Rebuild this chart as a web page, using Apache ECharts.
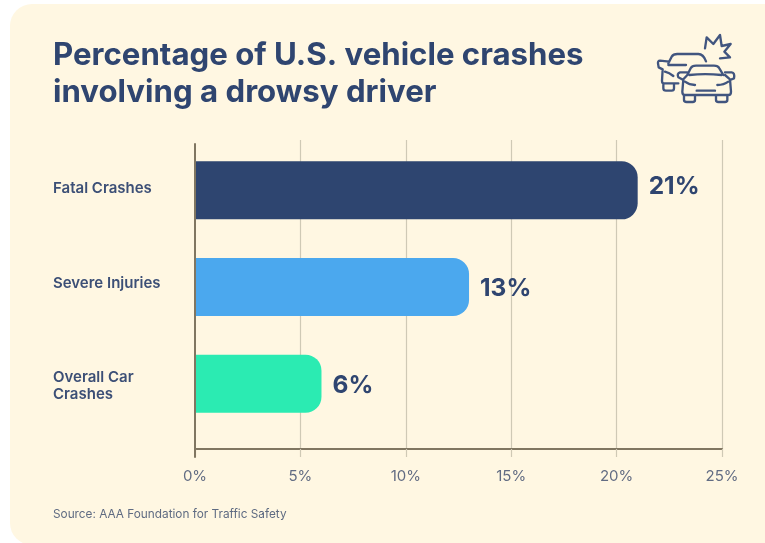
<!DOCTYPE html>
<html>
<head>
<meta charset="utf-8">
<style>html,body{margin:0;padding:0;background:#fff}#chart{width:765px;height:543px}</style>
<script src="https://cdn.jsdelivr.net/npm/echarts@6/dist/echarts.min.js"></script>
</head>
<body>
<div id="chart"></div>
<script>
const categoryLines = [['Fatal Crashes'], ['Severe Injuries'], ['Overall Car', 'Crashes']];
const percentages = [21, 13, 6];
const barColors = ['#2E4570', '#4BA8EE', '#2BEBB2'];
const valueLabelShift = [-3.5, 1.5, 2];
const titleLines = 'Percentage of U.S. vehicle crashes\ninvolving a drowsy driver';
const sourceNote = 'Source: AAA Foundation for Traffic Safety';

const FONT = 'Inter, "Noto Sans", sans-serif';
const NAVY = '#2F4570';
const ICON = '#41557F';

// Line-art crash icon, stroked in a 3x coordinate space and scaled down
const iconPaths = [
  'M225,85 L230,52 L250,72 L270,45 L275,78 L302,72 L283,95 L300,112 L270,115',
  'M115,130 L125,110 Q130,102 142,102 L205,102 Q220,102 228,124',
  'M115,135 L168,135',
  'M118,125 L90,122 Q83,122 84,130 L86,142 L98,148 L96,182 Q96,190 102,190 L145,190',
  'M105,155 Q118,158 130,168',
  'M100,190 L100,205 Q100,212 108,212 L125,212 Q132,212 132,205 L132,190',
  'M172,165 L182,145 Q186,137 198,137 L252,137 Q264,137 268,145 L280,165',
  'M178,165 Q225,160 275,165',
  'M160,180 L145,172 Q140,160 150,157 L172,157',
  'M172,165 L160,178 L157,215 Q157,225 165,225 L295,225 Q303,225 303,215 L300,178 L285,165',
  'M300,180 L312,175 Q315,158 305,157 L285,157',
  'M165,185 Q178,195 195,195',
  'M295,185 Q282,195 262,195',
  'M200,212 L255,212',
  'M162,225 L162,240 Q162,246 170,246 L188,246 Q195,246 195,240 L195,225',
  'M258,225 L258,240 Q258,246 265,246 L285,246 Q292,246 292,240 L292,225'
];
echarts.graphic.registerShape('crashIcon', echarts.graphic.extendPath(iconPaths.join(' ')));

const categories = categoryLines.map(lines => lines.join('\n'));
const labelStyle = { fontFamily: FONT, fontSize: 15, fontWeight: 600, color: '#3C4F76', lineHeight: 18 };

const chart = echarts.init(document.getElementById('chart'), null, { renderer: 'canvas' });

chart.setOption({
  animation: false,
  backgroundColor: '#FFFFFF',
  title: {
    text: titleLines,
    left: 53,
    top: 37.5,
    padding: 0,
    textStyle: { fontFamily: FONT, fontSize: 31.2, fontWeight: 700, color: NAVY, lineHeight: 36.5 }
  },
  grid: [
    { left: 195, width: 527, top: 142, height: 290, outerBoundsMode: 'none' },   // bars
    { left: 195, width: 527, top: 140, height: 309, outerBoundsMode: 'none' },   // value scale and gridlines
    { left: 195, width: 527, top: 144, height: 313, outerBoundsMode: 'none' }    // zero line
  ],
  xAxis: [
    { type: 'value', gridIndex: 0, min: 0, max: 25, interval: 5, show: false },
    {
      type: 'value', gridIndex: 1, min: 0, max: 25, interval: 5,
      axisLine: { show: true, onZero: false, lineStyle: { color: '#807661', width: 2 } },
      axisTick: { show: true, length: 8, lineStyle: { color: '#CFC9B5', width: 1.2 } },
      axisLabel: {
        margin: 20, fontFamily: FONT, fontSize: 15, color: '#626C83',
        formatter: '{value}%', hideOverlap: false
      },
      splitLine: { show: true, showMinLine: false, lineStyle: { color: '#CFC9B5', width: 1.2 } }
    },
    { type: 'value', gridIndex: 2, min: 0, max: 25, interval: 5, show: false }
  ],
  yAxis: [
    {
      type: 'category', gridIndex: 0, inverse: true,
      data: categories,
      axisLine: { show: false },
      axisTick: { show: false },
      axisLabel: {
        align: 'left', margin: 142, ...labelStyle,
        // Each category sits at its own height inside the band
        formatter: (value, i) => {
          if (i === 0) return '{fatal|' + value + '}';
          if (i === 1) return '{severe|' + value + '}';
          const [first, second] = value.split('\n');
          return '{overall|' + first + '}\n{plain|' + second + '}';
        },
        rich: {
          fatal: { ...labelStyle, padding: [0, 0, 4, 0] },
          severe: { ...labelStyle, padding: [0, 0, 8, 0] },
          overall: { ...labelStyle, padding: [6, 0, 0, 0] },
          plain: { ...labelStyle, padding: [4, 0, 0, 0] }
        }
      }
    },
    { type: 'value', gridIndex: 1, show: false },
    {
      type: 'value', gridIndex: 2, z: 6,
      axisLine: { show: true, onZero: false, lineStyle: { color: '#807661', width: 2 } },
      axisTick: { show: false },
      axisLabel: { show: false },
      splitLine: { show: false }
    }
  ],
  series: [{
    type: 'bar',
    xAxisIndex: 0,
    yAxisIndex: 0,
    barWidth: 58,
    data: percentages.map((value, i) => ({
      value,
      itemStyle: { color: barColors[i], borderRadius: [0, 16, 16, 0] },
      label: { offset: [0, valueLabelShift[i]] }
    })),
    label: {
      show: true,
      position: 'right',
      distance: 11,
      formatter: '{c}%',
      fontFamily: FONT,
      fontSize: 24.5,
      fontWeight: 700,
      color: NAVY
    }
  }],
  graphic: [
    {
      type: 'rect', z: -10, silent: true,
      shape: { x: 10, y: 4, width: 790, height: 541, r: 22 },
      style: { fill: '#FFF7E2' }
    },
    {
      type: 'text', left: 53, top: 508, silent: true,
      style: { text: sourceNote, fontFamily: FONT, fontSize: 11.8, fill: '#5F6B82' }
    },
    {
      type: 'crashIcon', x: 630, y: 20, scaleX: 1 / 3, scaleY: 1 / 3, silent: true,
      style: { fill: null, stroke: ICON, lineWidth: 7, lineJoin: 'round', lineCap: 'round' }
    }
  ]
});
</script>
</body>
</html>
